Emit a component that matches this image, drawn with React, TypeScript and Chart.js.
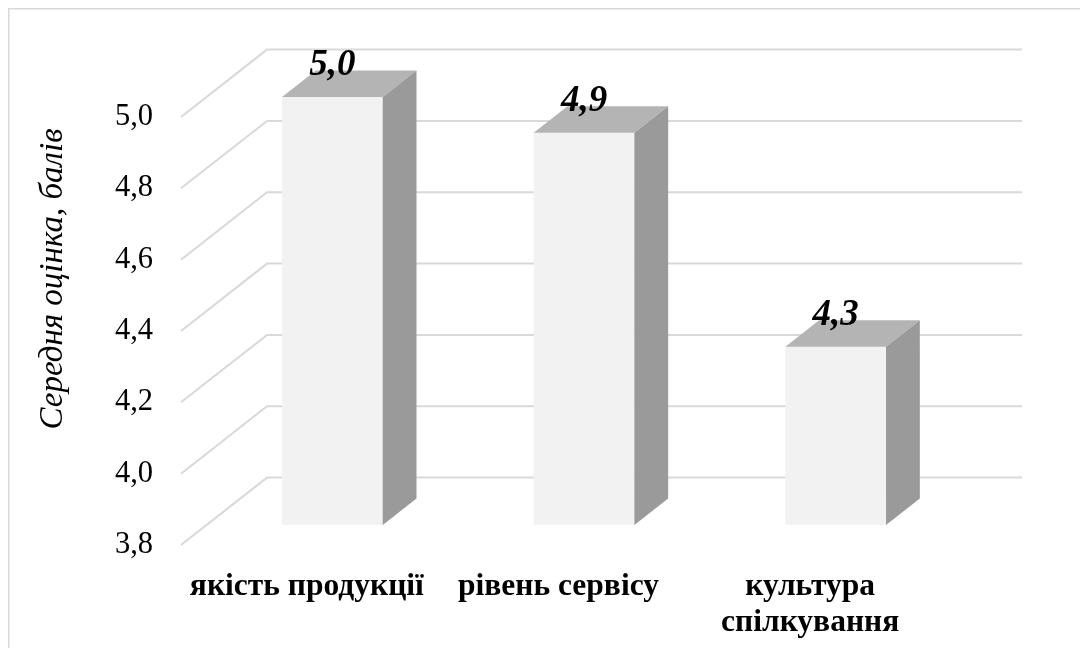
import React, { useEffect, useRef } from 'react';
import { Chart, registerables } from 'chart.js';

Chart.register(...registerables);

// Data
const categories: (string | string[])[] = ['якість продукції', 'рівень сервісу', ['культура', 'спілкування']];
const scores = [5.0, 4.9, 4.3];
const yMin = 3.8;
const yMax = 5.0;
const yStep = 0.2;
const axisTitle = 'Середня оцінка, балів';

const FONT = "'Liberation Serif', 'Times New Roman', serif";

// 3D geometry: offset from the floor's front edge to the back wall,
// and the fractions of that depth where the bar faces sit.
const DEPTH_X = 86;
const DEPTH_Y = -67.4;
const BAR_FRONT = 0.297;
const BAR_BACK = 0.69;

const fmt = (v: number) => v.toFixed(1).replace('.', ',');

const frame3d = {
  id: 'frame3d',
  beforeDraw(chart: any) {
    const { ctx, width, height } = chart;
    ctx.save();
    ctx.fillStyle = '#ffffff';
    ctx.fillRect(0, 0, width, height);
    ctx.strokeStyle = '#d9d9d9';
    ctx.lineWidth = 1.5;
    ctx.beginPath();
    ctx.moveTo(0.75, height);
    ctx.lineTo(0.75, 0.75);
    ctx.lineTo(width, 0.75);
    ctx.stroke();
    ctx.restore();
  },
  beforeDatasetsDraw(chart: any) {
    const { ctx, chartArea: ca } = chart;
    const y = chart.scales.y;
    ctx.save();
    ctx.strokeStyle = '#d9d9d9';
    ctx.lineWidth = 2;
    y.ticks.forEach((t: any) => {
      const py = y.getPixelForValue(t.value);
      ctx.beginPath();
      ctx.moveTo(ca.left, py);
      ctx.lineTo(ca.left + DEPTH_X, py + DEPTH_Y);
      ctx.lineTo(ca.right + DEPTH_X, py + DEPTH_Y);
      ctx.stroke();
    });
    ctx.restore();
  },
  afterDatasetsDraw(chart: any) {
    const { ctx } = chart;
    const y = chart.scales.y;
    const meta = chart.getDatasetMeta(0);
    const fx = DEPTH_X * BAR_FRONT, fy = DEPTH_Y * BAR_FRONT;
    const bx = DEPTH_X * BAR_BACK, by = DEPTH_Y * BAR_BACK;
    const base = y.getPixelForValue(yMin);
    ctx.save();
    meta.data.forEach((el: any, i: number) => {
      const { x, width } = el.getProps(['x', 'width'], true);
      const top = y.getPixelForValue(scores[i]);
      const xl = x - width / 2;
      const xr = x + width / 2;
      // front face
      ctx.fillStyle = '#f2f2f2';
      ctx.fillRect(xl + fx, top + fy, xr - xl, base - top);
      // top face
      ctx.fillStyle = '#b4b4b4';
      ctx.beginPath();
      ctx.moveTo(xl + fx, top + fy);
      ctx.lineTo(xr + fx, top + fy);
      ctx.lineTo(xr + bx, top + by);
      ctx.lineTo(xl + bx, top + by);
      ctx.closePath();
      ctx.fill();
      // side face
      ctx.fillStyle = '#9a9a9a';
      ctx.beginPath();
      ctx.moveTo(xr + fx, top + fy);
      ctx.lineTo(xr + bx, top + by);
      ctx.lineTo(xr + bx, base + by);
      ctx.lineTo(xr + fx, base + fy);
      ctx.closePath();
      ctx.fill();
      // value label
      ctx.fillStyle = '#000000';
      ctx.font = `italic bold 37px ${FONT}`;
      ctx.textAlign = 'center';
      ctx.textBaseline = 'middle';
      ctx.fillText(fmt(scores[i]), x + fx, top + by - 5);
    });
    ctx.restore();
  },
  afterDraw(chart: any) {
    const { ctx } = chart;
    ctx.save();
    ctx.translate(45, 271);
    ctx.rotate(-Math.PI / 2);
    ctx.fillStyle = '#000000';
    ctx.font = `italic 33px ${FONT}`;
    ctx.textAlign = 'center';
    ctx.textBaseline = 'middle';
    ctx.fillText(axisTitle, 0, 0);
    ctx.restore();
  },
};

export default function App() {
  const ref = useRef<HTMLCanvasElement | null>(null);

  useEffect(() => {
    if (!ref.current) return;
    const chart = new Chart(ref.current, {
      type: 'bar',
      data: {
        labels: categories,
        datasets: [
          {
            data: scores,
            backgroundColor: 'rgba(0,0,0,0)',
            borderWidth: 0,
            barPercentage: 0.4,
            categoryPercentage: 1,
          },
        ],
      },
      options: {
        animation: false,
        responsive: true,
        maintainAspectRatio: false,
        layout: { padding: { top: 109, right: 144, left: 0, bottom: 0 } },
        plugins: { legend: { display: false }, tooltip: { enabled: false } },
        scales: {
          x: {
            offset: true,
            border: { display: false },
            grid: { display: false, drawTicks: false },
            ticks: {
              color: '#000000',
              font: { family: FONT, size: 31.5, weight: 'bold', lineHeight: 36 / 31.5 },
              padding: 24,
              maxRotation: 0,
              autoSkip: false,
            },
            afterFit: (s: any) => {
              s.height = 103;
            },
          },
          y: {
            min: yMin,
            max: yMax,
            border: { display: false },
            grid: { display: false, drawTicks: false },
            ticks: {
              stepSize: yStep,
              color: '#000000',
              font: { family: FONT, size: 30.5 },
              padding: 28,
              callback: (v: any) => fmt(Number(v)),
            },
            afterFit: (s: any) => {
              s.width = 173;
            },
          },
        },
      },
      plugins: [frame3d],
    });
    return () => chart.destroy();
  }, []);

  return (
    <div style={{ position: 'fixed', left: 8, top: 8, width: 1072, height: 640 }}>
      <canvas ref={ref} />
    </div>
  );
}
